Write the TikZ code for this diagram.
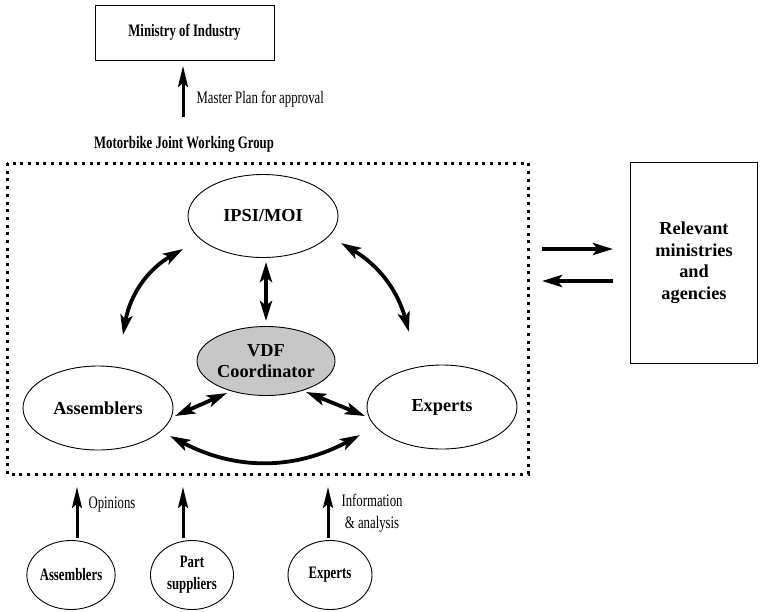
\documentclass[tikz,border=0pt]{standalone}
\usepackage{fontspec}
\setmainfont{Liberation Serif}
\newfontfamily\condfont{Liberation Serif}[FakeStretch=0.73]
\usetikzlibrary{shapes.geometric,arrows.meta}
\tikzset{
  bigtxt/.style={font=\fontsize{18.3}{21.5}\selectfont\bfseries, align=center},
  smalltxt/.style={font=\condfont\fontsize{17.5}{22}\selectfont\bfseries, align=center},
  plaintxt/.style={font=\condfont\fontsize{17.5}{22}\selectfont, align=left},
  ell/.style={ellipse, draw, line width=0.9pt, inner sep=0pt},
  boxn/.style={rectangle, draw, line width=0.9pt, inner sep=0pt},
  tipA/.tip={Stealth[length=21pt,width=10pt,inset=4pt]},
  tipB/.tip={Stealth[length=20pt,width=12pt,inset=4.5pt]},
  uparr/.style={line width=3pt, -tipA},
  sidearr/.style={line width=3.8pt, -tipB},
  dblarr/.style={line width=3.8pt, tipB-tipB},
  curvarr/.style={line width=3.8pt, tipB-tipB}
}
\begin{document}
\begin{tikzpicture}[x=1pt,y=1pt]
\useasboundingbox (0,0) rectangle (760,-611);
% top
\node[boxn, smalltxt, minimum width=179pt, minimum height=55pt] (min) at (184.5,-32.5) {Ministry of Industry};
\coordinate (mpS) at (183,-117);
\coordinate (mpE) at (183,-66);
\draw[uparr] (mpS) -- (mpE);
\node[plaintxt, anchor=west] (mpl) at (193,-99) {Master Plan for approval};
\node[smalltxt] (grp) at (184,-144) {Motorbike Joint Working Group};
% group frame
\draw[line width=3pt, dash pattern=on 3pt off 4.7pt] (7,-163) rectangle (528,-474);
% inner ellipses
\node[ell, bigtxt, minimum width=150pt, minimum height=83pt] (ipsi) at (263,-216) {IPSI/MOI};
\node[ell, bigtxt, fill=black!22, minimum width=110pt, minimum height=69pt] (vdf) at (266,-361) {VDF\\Coordinator};
\node[ell, bigtxt, minimum width=150pt, minimum height=84pt] (asm) at (98,-408) {Assemblers};
\node[ell, bigtxt, minimum width=150pt, minimum height=84pt] (exp) at (442,-407) {Experts};
% relevant box
\node[boxn, bigtxt, minimum width=127pt, minimum height=201pt] (rel) at (694,-262.5) {Relevant\\ministries\\and\\agencies};
% inner arrows
\coordinate (a1) at (183,-249); \coordinate (a2) at (123,-335);
\draw[curvarr] (a1) to[bend right=25] (a2);
\coordinate (b1) at (341,-243); \coordinate (b2) at (409,-332);
\draw[curvarr] (b1) to[bend left=22] (b2);
\coordinate (c1) at (170,-436); \coordinate (c2) at (360,-435);
\draw[curvarr] (c1) to[bend right=28] (c2);
\coordinate (d1) at (266,-262); \coordinate (d2) at (266,-321);
\draw[dblarr] (d1) -- (d2);
\coordinate (e1) at (227,-393); \coordinate (e2) at (175,-416);
\draw[dblarr] (e1) -- (e2);
\coordinate (f1) at (306,-392); \coordinate (f2) at (365,-416);
\draw[dblarr] (f1) -- (f2);
% relevant arrows
\coordinate (g1) at (542,-249); \coordinate (g2) at (613,-249);
\draw[sidearr] (g1) -- (g2);
\coordinate (h1) at (613,-281); \coordinate (h2) at (542,-281);
\draw[sidearr] (h1) -- (h2);
% bottom ellipses
\node[ell, smalltxt, minimum width=83pt, minimum height=69pt] (basm) at (71,-575) {Assemblers};
\node[ell, smalltxt, minimum width=83pt, minimum height=69pt] (bpart) at (192,-575) {Part\\suppliers};
\node[ell, smalltxt, minimum width=84pt, minimum height=69pt] (bexp) at (330,-575) {Experts};
\coordinate (i1) at (77,-538); \coordinate (i2) at (77,-487);
\draw[uparr] (i1) -- (i2);
\coordinate (j1) at (183,-538); \coordinate (j2) at (183,-487);
\draw[uparr] (j1) -- (j2);
\coordinate (k1) at (328,-538); \coordinate (k2) at (328,-487);
\draw[uparr] (k1) -- (k2);
\node[plaintxt, anchor=west] (opl) at (85,-505) {Opinions};
\node[plaintxt, anchor=west, align=center] (infl) at (338,-513) {Information\\\& analysis};
\end{tikzpicture}
\end{document}
